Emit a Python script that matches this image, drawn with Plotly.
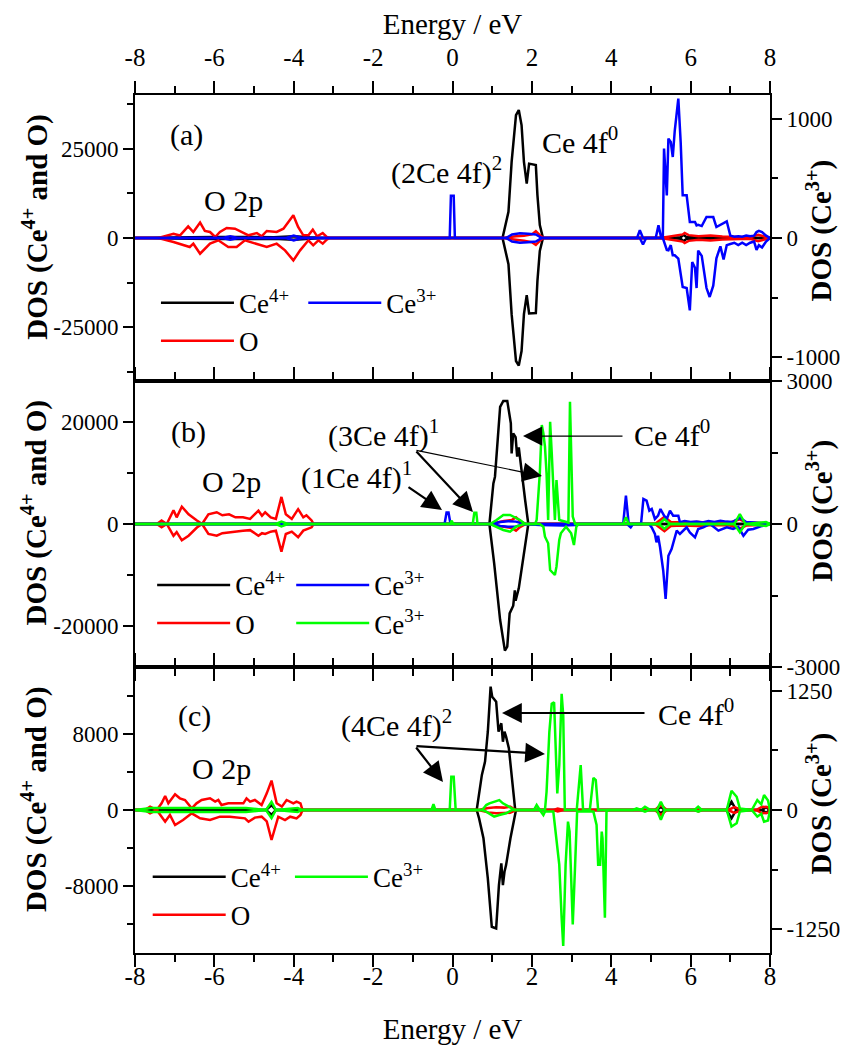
import plotly.graph_objects as go
from plotly.subplots import make_subplots

FONT = "'Liberation Serif', Tinos, 'Times New Roman', 'DejaVu Serif', serif"

# ---------------- tick labels ----------------
x_tickvals = [-8, -6, -4, -2, 0, 2, 4, 6, 8]
x_ticktext = ["-8", "-6", "-4", "-2", "0", "2", "4", "6", "8"]
a_left_tickvals = [-25000, 0, 25000]
a_left_ticktext = ["-25000", "0", "25000"]
a_right_tickvals = [-1000, 0, 1000]
a_right_ticktext = ["-1000", "0", "1000"]
b_left_tickvals = [-20000, 0, 20000]
b_left_ticktext = ["-20000", "0", "20000"]
b_right_tickvals = [-3000, 0, 3000]
b_right_ticktext = ["-3000", "0", "3000"]
c_left_tickvals = [-8000, 0, 8000]
c_left_ticktext = ["-8000", "0", "8000"]
c_right_tickvals = [-1250, 0, 1250]
c_right_ticktext = ["-1250", "0", "1250"]

# ================= panel (a) =================
a_ce4_up_e = [-8, -7.1, -6.6, -6.0, -5.5, -5.0, -4.5, -4.0, -3.6, -3.2, 1.22, 1.26, 1.41, 1.49, 1.60, 1.67,
              1.74, 1.80, 1.87, 1.93, 2.10, 2.14, 2.20, 2.28, 5.5, 5.75, 5.82, 5.9, 6.3, 6.8, 7.3, 7.8, 8]
a_ce4_up = [0, 0, 200, 300, 400, 300, 200, 500, 200, 0, 0, 0, 7300, 21300, 34400, 35800,
            31600, 21300, 15200, 20800, 20400, 12000, 3600, 0, 0, 200, 900, 200, 200, 150, 100, 200, 0]
a_ce4_dn_e = a_ce4_up_e
a_ce4_dn = [0, 0, -200, -300, -400, -300, -200, -500, -200, 0, 0, 0, -7300, -21300, -34400, -35700,
            -31600, -21300, -16000, -21100, -21000, -12000, -3600, 0, 0, -200, -900, -200, -200, -150, -100, -200, 0]

a_o_up_e = [-8, -7.41, -7.03, -6.87, -6.66, -6.53, -6.36, -6.24, -6.11, -5.98, -5.86, -5.69, -5.48, -5.27,
            -5.14, -4.93, -4.81, -4.68, -4.43, -4.26, -4.01, -3.89, -3.76, -3.63, -3.52, -3.41, -3.27,
            -3.17, -3.1, 1.25, 1.4, 1.6, 1.8, 2.0, 2.1, 2.2, 2.3, 5.2, 5.4, 5.6, 5.8, 5.85, 5.95, 6.2,
            6.5, 6.8, 7.2, 7.5, 7.7, 7.85, 8]
a_o_up = [0, 0, 1200, 700, 3270, 1680, 4300, 2000, 1680, 280, 1680, 2800, 2615, 1400,
          750, 1400, 470, 1960, 1680, 2600, 6350, 3080, 750, 750, 2335, 470, 1400,
          300, 0, 0, 300, 500, 600, 1000, 1900, 800, 0, 0, 300, 600, 1000, 1400, 800, 500,
          700, 400, 300, 200, 900, 400, 0]
a_o_dn_e = [-8, -7.41, -7.03, -6.79, -6.62, -6.53, -6.36, -6.11, -5.9, -5.65, -5.44, -5.23, -4.93, -4.68,
            -4.43, -4.22, -4.01, -3.84, -3.63, -3.51, -3.38, -3.27, -3.17, -3.1, 1.25, 1.4, 1.6, 1.8,
            2.0, 2.1, 2.2, 2.3, 5.2, 5.4, 5.6, 5.8, 5.85, 5.95, 6.2, 6.5, 6.8, 7.2, 7.5, 7.7, 7.85, 8]
a_o_dn = [0, 0, -1120, -2050, -2520, -1590, -4390, -1590, -650, -2520, -2520, -650, -1590, -2520,
          -1590, -3460, -6260, -3460, -650, -2050, -650, -1590, -470, 0, 0, -300, -500, -800,
          -1200, -1900, -800, 0, 0, -300, -600, -1000, -1400, -800, -500, -700, -400, -300, -200, -900, -400, 0]

a_ce3_up_e = [-8, -5.8, -5.6, -5.4, -4.2, -4.0, -3.8, -0.07, -0.04, 0.03, 0.06, 1.35, 1.5, 1.7, 1.9, 2.1,
              2.25, 4.65, 4.72, 4.8, 5.12, 5.19, 5.26, 5.30, 5.33, 5.40, 5.44, 5.50, 5.55, 5.60, 5.69,
              5.75, 5.80, 5.90, 5.98, 6.04, 6.11, 6.15, 6.19, 6.28, 6.40, 6.48, 6.57, 6.65, 6.75, 6.83,
              6.91, 7.0, 7.1, 7.2, 7.3, 7.4, 7.5, 7.6, 7.66, 7.72, 7.8, 7.9, 8]
a_ce3_up = [0, 0, 15, 0, 0, 20, 0, 0, 355, 355, 0, 0, 30, 40, 35, 30,
            0, 0, 65, 0, 0, 106, 0, 0, 750, 358, 834, 805, 680, 900, 1169,
            800, 358, 358, 134, 134, 134, 106, 110, 100, 176, 176, 176, 92, 110, 130,
            140, 20, 10, 15, 10, 20, 15, 20, 50, 60, 50, 20, 0]
a_ce3_dn_e = [-8, -5.8, -5.6, -5.4, -4.2, -4.0, -3.8, 1.35, 1.5, 1.7, 1.9, 2.1, 2.25, 4.72, 4.8, 4.88,
              5.30, 5.33, 5.40, 5.44, 5.50, 5.55, 5.60, 5.69, 5.75, 5.80, 5.90, 5.98, 6.04, 6.11, 6.15,
              6.19, 6.28, 6.40, 6.48, 6.57, 6.65, 6.75, 6.83, 6.91, 7.0, 7.1, 7.2, 7.3, 7.4, 7.5, 7.6,
              7.66, 7.72, 7.8, 7.9, 8]
a_ce3_dn = [0, 0, -15, 0, 0, -20, 0, 0, -30, -40, -35, -30, 0, 0, -55, 0,
            0, -30, -100, -103, -60, -145, -145, -173, -300, -411, -420, -607, -201, -250, -420,
            -106, -150, -420, -495, -400, -170, -70, -180, -60, -50, -40, -60, -40, -60, -40, -30,
            -100, -60, -80, -30, 0]

# ================= panel (b) =================
b_ce4_up_e = [-8, 0.93, 1.03, 1.07, 1.20, 1.28, 1.38, 1.47, 1.49, 1.53, 1.59, 1.63, 1.67, 1.71, 1.83, 1.91, 8]
b_ce4_up = [0, 0, 7960, 9260, 22950, 24100, 24100, 19700, 13800, 17750, 17000, 13200, 15000, 12200, 4700, 0, 0]
b_ce4_dn_e = [-8, 0.93, 1.05, 1.20, 1.32, 1.38, 1.44, 1.53, 1.57, 1.59, 1.67, 1.79, 1.91, 8]
b_ce4_dn = [0, 0, -7700, -18800, -24800, -24000, -17500, -16000, -13000, -15000, -12600, -6400, 0, 0]

b_o_e = [-8, -7.45, -7.33, -7.2, -7.03, -6.95, -6.82, -6.65, -6.44, -6.31, -6.15, -5.94, -5.8, -5.63,
         -5.47, -5.28, -5.1, -4.89, -4.8, -4.72, -4.58, -4.45, -4.31, -4.2, -4.05, -3.89, -3.76, -3.68,
         -3.55, -3.5, 0.95, 1.1, 1.3, 1.5, 1.6, 1.7, 1.85, 5.1, 5.34, 5.5, 5.8, 6.2, 6.6, 7.0, 7.24,
         7.4, 7.8, 8]
b_o_up = [0, 0, 700, 0, 2700, 1300, 3400, 1900, 700, 0, 1900, 2300, 1700, 1900,
          1300, 1300, 1000, 2600, 1600, 2300, 1300, 1000, 5300, 1900, 1000, 2900, 1300, 1700,
          700, 0, 0, 300, 600, 800, 1300, 600, 0, 0, 1400, 400, 300, 400, 200, 300, 900,
          300, 200, 0]
b_o_dn = [0, 0, -650, 0, -2300, -1600, -3200, -2300, -700, 0, -1950, -2300, -1800, -1600,
          -1400, -1300, -1200, -2300, -1800, -1950, -1500, -1300, -5400, -1950, -1500, -2600, -1300, -1000,
          -650, 0, 0, -300, -600, -800, -1300, -600, 0, 0, -1400, -400, -300, -400, -200, -300, -900,
          -300, -200, 0]

b_ce3b_up_e = [-8, -0.2, -0.15, -0.1, -0.05, 1.0, 1.2, 1.4, 1.6, 1.8, 4.3, 4.37, 4.44, 4.75, 4.81, 4.89,
               4.96, 5.02, 5.10, 5.18, 5.24, 5.33, 5.40, 5.48, 5.56, 5.69, 5.73, 5.85, 6.0, 6.15, 6.3,
               6.45, 6.6, 6.75, 6.9, 7.05, 7.24, 7.4, 7.6, 7.8, 8]
b_ce3b_up = [0, 0, 240, 240, 0, 0, 40, 60, 50, 0, 0, 594, 0, 0, 524, 489,
             280, 315, 105, 175, 315, 175, 105, 280, 175, 175, 35, 60, 40, 50, 30,
             60, 40, 70, 50, 40, 130, 40, 30, 20, 0]
b_ce3b_dn_e = [-8, 1.0, 1.2, 1.4, 1.6, 1.8, 2.2, 2.5, 2.8, 3.1, 3.2, 4.4, 4.49, 4.55, 4.95, 5.02, 5.10,
               5.14, 5.18, 5.23, 5.31, 5.37, 5.44, 5.52, 5.65, 5.73, 5.81, 5.90, 5.98, 6.11, 6.19, 6.32,
               6.49, 6.70, 6.91, 7.07, 7.2, 7.33, 7.45, 7.58, 7.8, 8]
b_ce3b_dn = [0, 0, -40, -60, -50, 0, -20, -30, -30, -20, 0, 0, -70, 0, 0, -70, -210,
             -385, -245, -490, -980, -1573, -665, -525, -140, -210, -140, -70, -175, -280, -105, -70,
             0, -140, -70, -105, -60, -245, -120, -105, -40, 0]

b_ce3g_up_e = [-8, -4.45, -4.31, -4.15, -0.06, -0.02, 0.02, 0.51, 0.55, 0.6, 0.63, 0.95, 1.11, 1.28,
               1.45, 1.57, 1.70, 1.83, 2.08, 2.12, 2.20, 2.25, 2.29, 2.33, 2.37, 2.41, 2.46, 2.50, 2.54,
               2.58, 2.62, 2.69, 2.92, 2.96, 3.03, 3.09, 4.3, 4.37, 4.44, 5.2, 5.34, 5.48, 7.1, 7.24,
               7.38, 7.9, 8]
b_ce3g_up = [0, 0, 50, 0, 0, 70, 0, 0, 238, 238, 0, 0, 84, 189,
             189, 140, 84, 0, 0, 84, 1063, 2076, 1900, 1622, 1063, 84, 2146, 1500, 923,
             84, 923, 84, 30, 2566, 154, 0, 0, 140, 0, 0, 100, 0, 0, 210,
             0, 40, 0]
b_ce3g_dn_e = [-8, -4.45, -4.31, -4.15, 0.95, 1.11, 1.28, 1.45, 1.60, 1.80, 2.2, 2.29, 2.33, 2.41, 2.46,
               2.58, 2.62, 2.69, 2.73, 2.86, 2.99, 3.06, 3.12, 3.18, 5.2, 5.34, 5.48, 7.1, 7.24, 7.38,
               7.9, 8]
b_ce3g_dn = [0, 0, -50, 0, 0, -56, -126, -161, -56, 0, 0, -56, -266, -405, -965,
             -1070, -895, -336, -196, -56, -196, -440, -56, 0, 0, -100, 0, 0, -175, 0,
             -40, 0]

# ================= panel (c) =================
c_ce4_up_e = [-8, -4.7, -4.56, -4.45, 0.61, 0.74, 0.82, 0.89, 0.96, 1.00, 1.10, 1.16, 1.23, 1.27, 1.31,
              1.35, 1.42, 1.50, 1.58, 5.15, 5.25, 5.35, 6.9, 7.03, 7.15, 7.8, 7.9, 8]
c_ce4_up = [0, 0, 500, 0, 0, 3690, 5090, 8240, 12990, 11930, 11400, 8240, 9130, 7190, 8240,
            7720, 6500, 2980, 0, 0, 350, 0, 0, 870, 0, 0, 300, 0]
c_ce4_dn_e = [-8, -4.7, -4.56, -4.45, 0.61, 0.67, 0.78, 0.89, 0.99, 1.10, 1.17, 1.23, 1.27, 1.31, 1.35,
              1.46, 1.60, 5.15, 5.25, 5.35, 6.9, 7.03, 7.15, 7.8, 7.9, 8]
c_ce4_dn = [0, 0, -500, 0, 0, -880, -2980, -7190, -12290, -12460, -7900, -5620, -7900, -6500, -5800,
            -2980, 0, 0, -350, 0, 0, -870, 0, 0, -300, 0]

c_o_up_e = [-8, -7.75, -7.62, -7.45, -7.33, -7.24, -7.16, -6.99, -6.87, -6.74, -6.57, -6.45, -6.32, -6.11,
            -5.98, -5.90, -5.82, -5.65, -5.44, -5.27, -5.19, -5.10, -4.98, -4.81, -4.68, -4.56, -4.43,
            -4.30, -4.18, -4.09, -4.01, -3.93, -3.83, -3.78, 0.65, 0.9, 1.1, 1.3, 1.45, 1.6, 2.55, 2.65,
            2.8, 5.1, 5.25, 5.4, 6.1, 6.2, 6.3, 6.95, 7.1, 7.3, 7.65, 7.8, 7.95, 8]
c_o_up = [0, 0, 351, 0, 702, 1474, 702, 1650, 1229, 1053, 175, 702, 1053, 1229,
          878, 1053, 527, 702, 702, 702, 1229, 878, 1053, 527, 1755, 3089, 702,
          351, 1053, 878, 702, 878, 702, 0, 0, 200, 300, 250, 350, 0, 0, 150,
          0, 0, 530, 0, 0, 150, 0, 0, 300, 0, 0, 350, 300, 0]
c_o_dn_e = [-8, -7.75, -7.62, -7.45, -7.33, -7.24, -7.12, -6.99, -6.79, -6.57, -6.36, -6.11, -5.86, -5.61,
            -5.23, -5.14, -4.98, -4.81, -4.68, -4.56, -4.39, -4.22, -4.09, -3.93, -3.83, -3.78, 0.65, 0.9,
            1.1, 1.3, 1.45, 1.6, 2.55, 2.65, 2.8, 5.1, 5.25, 5.4, 6.1, 6.2, 6.3, 6.95, 7.1, 7.3, 7.65,
            7.8, 7.95, 8]
c_o_dn = [0, 0, -351, 0, -702, -1229, -527, -1580, -1053, -351, -878, -1053, -702, -702,
          -878, -1229, -800, -702, -1200, -3159, -702, -1053, -702, -878, -527, 0, 0, -250,
          -350, -300, -300, 0, 0, -150, 0, 0, -530, 0, 0, -150, 0, 0, -300, 0, 0,
          -350, -300, 0]

c_ce3_up_e = [-8, -7.6, -7.0, -6.4, -5.8, -5.2, -4.7, -4.56, -4.45, -3.9, -3.8, -0.53, -0.48, -0.43, -0.07,
              -0.03, 0.03, 0.08, 0.75, 0.85, 0.93, 1.05, 1.18, 1.27, 1.44, 1.57, 2.05, 2.12, 2.20, 2.33,
              2.37, 2.44, 2.50, 2.56, 2.64, 2.69, 2.75, 2.79, 2.83, 3.13, 3.23, 3.29, 3.46, 3.55, 3.61,
              3.67, 4.55, 4.64, 4.75, 4.85, 4.99, 5.15, 5.25, 5.35, 6.1, 6.19, 6.28, 6.91, 7.03, 7.16,
              7.24, 7.54, 7.68, 7.78, 7.85, 7.95, 8]
c_ce3_up = [0, 20, 20, 20, 20, 20, 0, 85, 0, 20, 0, 0, 60, 0, 0,
            350, 350, 0, 0, 52, 70, 87, 104, 70, 35, 0, 0, 52, 0, 0,
            191, 818, 1114, 1131, 174, 470, 1218, 992, 0, 0, 470, 0, 0, 338, 313,
            0, 0, 17, 0, 35, 0, 0, 87, 0, 0, 35, 0, 0, 202, 139,
            17, 0, 104, 60, 157, 100, 0]
c_ce3_dn_e = [-8, -7.6, -7.0, -6.4, -5.8, -5.2, -4.7, -4.56, -4.45, -3.9, -3.8, 0.75, 0.85, 1.05, 1.18,
              1.35, 1.5, 2.20, 2.29, 2.33, 2.54, 2.62, 2.69, 2.75, 2.79, 2.85, 2.91, 2.95, 3.03, 3.09,
              3.14, 3.55, 3.63, 3.67, 3.72, 3.76, 3.78, 3.84, 3.88, 3.92, 4.75, 4.85, 4.95, 5.15, 5.25,
              5.35, 6.1, 6.19, 6.28, 6.91, 7.03, 7.16, 7.24, 7.54, 7.68, 7.78, 7.85, 7.95, 8]
c_ce3_dn = [0, -20, -20, -20, -20, -20, 0, -85, 0, -20, 0, 0, -17, -70, -52,
            -35, 0, 0, -52, -17, -17, -296, -574, -1131, -1427, -574, -122, -226, -1201, -574,
            -17, -17, -157, -574, -574, -226, -296, -1131, -17, 0, 0, -17, 0, 0, -104,
            0, 0, -17, 0, 0, -174, -139, -17, 0, -70, -40, -122, -110, 0]

# axis ranges
x_range = [-8, 8]
a_left_range = [-40000, 40000]
a_right_range = [-1200, 1200]
b_left_range = [-28000, 28000]
b_right_range = [-3000, 3000]
c_left_range = [-15050, 15050]
c_right_range = [-1500, 1500]

BLACK, RED, BLUE, GREEN = "#000000", "#ff0000", "#0000ff", "#00ff00"
CE4 = "Ce<sup>4+</sup>"
CE3 = "Ce<sup>3+</sup>"

fig = make_subplots(rows=3, cols=1, vertical_spacing=0,
                    specs=[[{"secondary_y": True}], [{"secondary_y": True}], [{"secondary_y": True}]])


def add(row, e_up, v_up, e_dn, v_dn, color, name, secondary, legend):
    fig.add_trace(go.Scatter(x=list(e_up) + [None] + list(e_dn), y=list(v_up) + [None] + list(v_dn),
                             mode="lines", line=dict(color=color, width=2.5), name=name,
                             legend=legend, showlegend=True),
                  row=row, col=1, secondary_y=secondary)


add(1, a_ce4_up_e, a_ce4_up, a_ce4_dn_e, a_ce4_dn, BLACK, CE4, False, "legend")
add(1, a_o_up_e, a_o_up, a_o_dn_e, a_o_dn, RED, "O", False, "legend")
add(1, a_ce3_up_e, a_ce3_up, a_ce3_dn_e, a_ce3_dn, BLUE, CE3, True, "legend2")

add(2, b_ce4_up_e, b_ce4_up, b_ce4_dn_e, b_ce4_dn, BLACK, CE4, False, "legend3")
add(2, b_o_e, b_o_up, b_o_e, b_o_dn, RED, "O", False, "legend3")
add(2, b_ce3b_up_e, b_ce3b_up, b_ce3b_dn_e, b_ce3b_dn, BLUE, CE3, True, "legend4")
add(2, b_ce3g_up_e, b_ce3g_up, b_ce3g_dn_e, b_ce3g_dn, GREEN, CE3, True, "legend4")

add(3, c_ce4_up_e, c_ce4_up, c_ce4_dn_e, c_ce4_dn, BLACK, CE4, False, "legend5")
add(3, c_o_up_e, c_o_up, c_o_dn_e, c_o_dn, RED, "O", False, "legend5")
add(3, c_ce3_up_e, c_ce3_up, c_ce3_dn_e, c_ce3_dn, GREEN, CE3, True, "legend6")

axis_common = dict(showline=True, linecolor="black", linewidth=2, showgrid=False, zeroline=False,
                   ticks="outside", tickwidth=2, tickcolor="black", automargin=False)
xtickfont = dict(family=FONT, size=25, color="black")
ytickfont = dict(family=FONT, size=23, color="black")

# x axes (full width, secondary y axes overlay)
for r in (1, 2, 3):
    xa = dict(axis_common, range=x_range, domain=[0, 1], tickmode="array", tickvals=x_tickvals,
              ticktext=x_ticktext, ticklen=12, tickfont=xtickfont,
              minor=dict(dtick=1, tick0=0, ticks="outside", ticklen=7, tickwidth=2, tickcolor="black"))
    if r == 1:
        xa.update(side="top", mirror=True, showticklabels=True, ticklabelstandoff=5,
                  title=dict(text="Energy / eV", font=dict(family=FONT, size=29, color="black"), standoff=27))
    elif r == 2:
        xa.update(side="bottom", mirror="ticks", showticklabels=False)
    else:
        xa.update(side="bottom", mirror="ticks", showticklabels=True, ticklabelstandoff=-12,
                  title=dict(text="Energy / eV", font=dict(family=FONT, size=29, color="black"), standoff=30))
    fig.update_xaxes(row=r, col=1, **xa)

left_specs = [(1, a_left_range, a_left_tickvals, a_left_ticktext, 12500),
              (2, b_left_range, b_left_tickvals, b_left_ticktext, 10000),
              (3, c_left_range, c_left_tickvals, c_left_ticktext, 4000)]
right_specs = [(1, a_right_range, a_right_tickvals, a_right_ticktext, 500),
               (2, b_right_range, b_right_tickvals, b_right_ticktext, 1500),
               (3, c_right_range, c_right_tickvals, c_right_ticktext, 625)]
for r, rng, tv, tt, mn in left_specs:
    fig.update_yaxes(row=r, col=1, secondary_y=False,
                     **dict(axis_common, range=rng, tickmode="array", tickvals=tv, ticktext=tt, ticklen=10,
                            tickfont=ytickfont,
                            minor=dict(dtick=mn, tick0=0, ticks="outside", ticklen=6, tickwidth=2,
                                       tickcolor="black")))
for r, rng, tv, tt, mn in right_specs:
    fig.update_yaxes(row=r, col=1, secondary_y=True,
                     **dict(axis_common, range=rng, tickmode="array", tickvals=tv, ticktext=tt, ticklen=10,
                            side="right", tickfont=ytickfont,
                            minor=dict(dtick=mn, tick0=0, ticks="outside", ticklen=6, tickwidth=2,
                                       tickcolor="black")))

# ---------- text labels inside panels (x in eV, y on left axis) ----------
txt = dict(family=FONT, size=30, color="black")
labels = [
    ("x", "y", -6.69, 28800, "(a)"),
    ("x", "y", -5.53, 10570, "O 2p"),
    ("x", "y", -0.16, 18980, "(2Ce 4f)<sup>2</sup>"),
    ("x", "y", 3.21, 27390, "Ce 4f<sup>0</sup>"),
    ("x2", "y3", -6.66, 18000, "(b)"),
    ("x2", "y3", -5.58, 8400, "O 2p"),
    ("x2", "y3", -1.75, 17800, "(3Ce 4f)<sup>1</sup>"),
    ("x2", "y3", -2.41, 9400, "(1Ce 4f)<sup>1</sup>"),
    ("x2", "y3", 5.53, 17800, "Ce 4f<sup>0</sup>"),
    ("x3", "y5", -6.51, 9900, "(c)"),
    ("x3", "y5", -5.81, 4420, "O 2p"),
    ("x3", "y5", -1.40, 9060, "(4Ce 4f)<sup>2</sup>"),
    ("x3", "y5", 6.13, 10320, "Ce 4f<sup>0</sup>"),
]
for xr, yr, xv, yv, t in labels:
    fig.add_annotation(xref=xr, yref=yr, x=xv, y=yv, text=t, showarrow=False, font=txt)

# ---------- arrows (tip in data coords, tail as pixel offset) ----------
arrows = [
    ("x2", "y3", 1.776, 17220, 101, 0, 1.2, 3.2),
    ("x2", "y3", 2.254, 9390, -127, -26, 1.2, 3.2),
    ("x2", "y3", 0.516, 2350, -58, -62, 2.2, 1.8),
    ("x2", "y3", -0.265, 2740, -35, -24, 2.2, 1.8),
    ("x3", "y5", 1.247, 10210, 144, 0, 2.2, 1.8),
    ("x3", "y5", 2.33, 5900, -130, -8, 2.2, 1.8),
    ("x3", "y5", -0.24, 2950, -28, -36, 2.2, 1.8),
]
for xr, yr, xv, yv, ax, ay, w, s in arrows:
    fig.add_annotation(xref=xr, yref=yr, x=xv, y=yv, ax=ax, ay=ay, text="", showarrow=True,
                       arrowhead=2, arrowsize=s, arrowwidth=w, arrowcolor="black", standoff=0,
                       startstandoff=0)

# ---------- y-axis titles ----------
ytitle_font = dict(family=FONT, size=29, color="black")
for yc in (0.846, 0.513, 0.179):
    fig.add_annotation(xref="paper", yref="paper", x=-0.158, y=yc, textangle=-90, showarrow=False,
                       text="<b>DOS (Ce<sup>4+</sup> and O)</b>", font=ytitle_font,
                       xanchor="center", yanchor="middle")
for yc in (0.8415, 0.515, 0.1737):
    fig.add_annotation(xref="paper", yref="paper", x=1.078, y=yc, textangle=-90, showarrow=False,
                       text="<b>DOS (Ce<sup>3+</sup>)</b>", font=ytitle_font,
                       xanchor="center", yanchor="middle")

leg = dict(font=dict(family=FONT, size=27, color="black"), bgcolor="rgba(0,0,0,0)", borderwidth=0,
           xanchor="left", yanchor="top", itemwidth=73, tracegroupgap=0, orientation="v")
# the html body has an 8px default margin; size and margins keep the plot box at the reference place
fig.update_layout(
    width=841, height=1042, template="none",
    paper_bgcolor="white", plot_bgcolor="white",
    margin=dict(l=127, r=79, t=87, b=97),
    font=dict(family=FONT, color="black"),
    legend=dict(leg, x=0.033, y=0.786),
    legend2=dict(leg, x=0.265, y=0.786),
    legend3=dict(leg, x=0.027, y=0.457),
    legend4=dict(leg, x=0.246, y=0.457),
    legend5=dict(leg, x=0.02, y=0.117),
    legend6=dict(leg, x=0.244, y=0.117),
)

fig.write_html("out.html")
